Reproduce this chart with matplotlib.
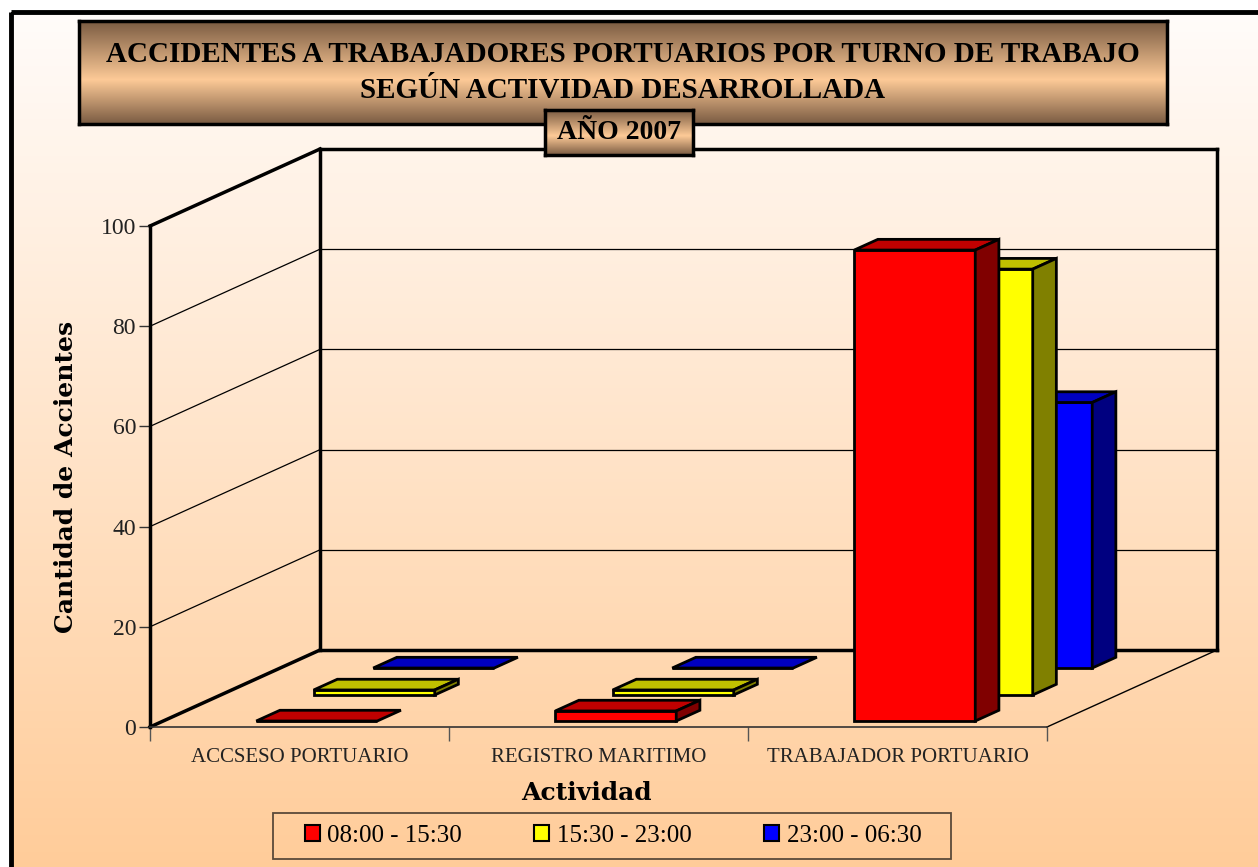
import numpy as np
import matplotlib
matplotlib.use("Agg")
import matplotlib.pyplot as plt
from matplotlib.patches import Polygon, Rectangle, Patch
from matplotlib.colors import LinearSegmentedColormap

# datos del grafico
categorias = ["ACCSESO PORTUARIO", "REGISTRO MARITIMO", "TRABAJADOR PORTUARIO"]
turnos = ["08:00 - 15:30", "15:30 - 23:00", "23:00 - 06:30"]
turno_1 = [0, 2, 94]
turno_2 = [1, 1, 85]
turno_3 = [0, 0, 53]
yticks = [0, 20, 40, 60, 80, 100]

frente = ["#FF0000", "#FFFF00", "#0000FF"]
tapa = ["#C00000", "#C0C000", "#0000C0"]
lado = ["#800000", "#808000", "#000080"]

SERIF = "Liberation Serif"
SLAB = "DejaVu Serif"

W, H = 1258, 867
fig = plt.figure(figsize=(W / 100, H / 100), dpi=100)


def fx(px):
    return px / W


def fy(py):
    return 1 - py / H


# fondo degradado del area del grafico
bg = fig.add_axes([0, 0, 1, 1])
bg.set_xlim(0, W)
bg.set_ylim(H, 0)
bg.axis("off")
fondo = LinearSegmentedColormap.from_list("fondo", ["#FFFCFA", "#FFCC99"])
bg.imshow(np.linspace(0, 1, 256).reshape(-1, 1), cmap=fondo, aspect="auto",
          extent=[11, W + 10, H + 5, 12])
bg.add_patch(Rectangle((11, 12), W, H, fill=False, lw=3.5, ec="black"))
# marco de la leyenda
bg.add_patch(Rectangle((273, 813), 678, 46, fill=False, lw=1.3, ec="#5a4a3a"))

# ejes principales (proyeccion oblicua tipo Excel)
CAT_PX = 299.0
VAL_PX = 5.01
DX = 170 / CAT_PX
DY = 77 / VAL_PX
n = len(categorias)

ax = fig.add_axes([fx(150), fy(727), (1218 - 150) / W, (727 - 148) / H])
ax.set_xlim(0, (1218 - 150) / CAT_PX)
ax.set_ylim(0, (727 - 148) / VAL_PX)
ax.patch.set_alpha(0)

for sp in ["top", "right"]:
    ax.spines[sp].set_visible(False)
ax.spines["left"].set_bounds(0, 100)
ax.spines["left"].set_linewidth(2.5)
ax.spines["bottom"].set_bounds(0, n)
ax.spines["bottom"].set_linewidth(1.2)
ax.spines["bottom"].set_color("#333333")

ax.set_yticks(yticks)
ax.set_yticklabels([str(v) for v in yticks], fontfamily=SERIF, fontsize=17, color="#222222")
ax.tick_params(axis="y", length=8, width=1, color="#333333", pad=2)
ax.set_xticks(range(n + 1))
ax.set_xticklabels([])
ax.tick_params(axis="x", which="major", length=10, width=1, color="#555555")
ax.set_xticks([c + 0.5 for c in range(n)], minor=True)
ax.set_xticklabels(categorias, minor=True, fontfamily=SERIF, fontsize=15, color="#222222")
ax.tick_params(axis="x", which="minor", length=0, pad=15)

# paredes y lineas de division
for v in yticks:
    lw = 2.5 if v in (0, 100) else 0.9
    ax.plot([0, DX], [v, v + DY], color="black", lw=lw, clip_on=False, zorder=1)
    ax.plot([DX, n + DX], [v + DY, v + DY], color="black", lw=lw, clip_on=False, zorder=1)
ax.plot([DX, DX], [DY, DY + 100], color="black", lw=2.5, clip_on=False, zorder=1)
ax.plot([n + DX, n + DX], [DY, DY + 100], color="black", lw=2.5, clip_on=False, zorder=1)
ax.plot([n, n + DX], [0, DY], color="black", lw=1.0, clip_on=False, zorder=1)

# barras 3D: una fila por turno
valores = [turno_1, turno_2, turno_3]
PROF = [0.078, 0.416, 0.766]
FONDO = 0.139
BW = 121 / CAT_PX
DESP = 4 / CAT_PX
ddx, ddy = FONDO * DX, FONDO * DY
for s in reversed(range(len(valores))):
    d0 = PROF[s]
    z = 10 - 2 * s
    for c, v in enumerate(valores[s]):
        x0 = c + 0.5 - BW / 2 + DESP + d0 * DX
        y0 = d0 * DY
        ax.bar(x0, v, BW, bottom=y0, align="edge", color=frente[s],
               edgecolor="black", lw=2, zorder=z)
        ax.add_patch(Polygon([(x0, y0 + v), (x0 + BW, y0 + v),
                              (x0 + BW + ddx, y0 + v + ddy), (x0 + ddx, y0 + v + ddy)],
                             closed=True, fc=tapa[s], ec="black", lw=2, zorder=z))
        if v > 0:
            ax.add_patch(Polygon([(x0 + BW, y0), (x0 + BW, y0 + v),
                                  (x0 + BW + ddx, y0 + v + ddy), (x0 + BW + ddx, y0 + ddy)],
                                 closed=True, fc=lado[s], ec="black", lw=2, zorder=z))

# rotulos de ejes
fig.text(fx(66), fy(477), "Cantidad de Accientes", rotation=90, ha="center", va="center",
         fontfamily=SLAB, fontweight="bold", fontsize=18)
fig.text(fx(586), fy(793), "Actividad", ha="center", va="center",
         fontfamily=SLAB, fontweight="bold", fontsize=18)

# leyenda
handles = [Patch(facecolor=frente[i], edgecolor="black", lw=1.5, label=turnos[i])
           for i in range(len(turnos))]
fig.legend(handles=handles, loc="center", bbox_to_anchor=(fx(613), fy(836)), ncol=3,
           frameon=False, prop={"family": SERIF, "size": 18}, handlelength=0.6,
           handleheight=0.6, handletextpad=0.3, columnspacing=2.9, borderpad=0.3)

# recuadro del titulo
titulo_cm = LinearSegmentedColormap.from_list(
    "titulo", [(0, "#7a5b42"), (0.57, "#fdca97"), (1, "#7a5b42")])
grad = np.linspace(0, 1, 256).reshape(-1, 1)

tb = fig.add_axes([fx(79), fy(124), (1167 - 79) / W, (124 - 21) / H])
tb.imshow(grad, cmap=titulo_cm, aspect="auto", extent=[0, 1, 0, 1])
tb.set_xticks([])
tb.set_yticks([])
for sp in tb.spines.values():
    sp.set_linewidth(2.5)
tb.text(0.5, 0.67, "ACCIDENTES A TRABAJADORES PORTUARIOS POR TURNO DE TRABAJO",
        transform=tb.transAxes, ha="center", va="center", fontfamily=SERIF,
        fontweight="bold", fontsize=21)
tb.text(0.5, 0.33, "SEGÚN ACTIVIDAD DESARROLLADA", transform=tb.transAxes,
        ha="center", va="center", fontfamily=SERIF, fontweight="bold", fontsize=21)

yb = fig.add_axes([fx(545), fy(155), (693 - 545) / W, (155 - 110) / H])
yb.imshow(grad, cmap=titulo_cm, aspect="auto", extent=[0, 1, 0, 1])
yb.set_xticks([])
yb.set_yticks([])
for sp in yb.spines.values():
    sp.set_linewidth(2.5)
yb.text(0.5, 0.5, "AÑO 2007", transform=yb.transAxes, ha="center", va="center",
        fontfamily=SERIF, fontweight="bold", fontsize=20)

fig.savefig("out.png", dpi=100)
